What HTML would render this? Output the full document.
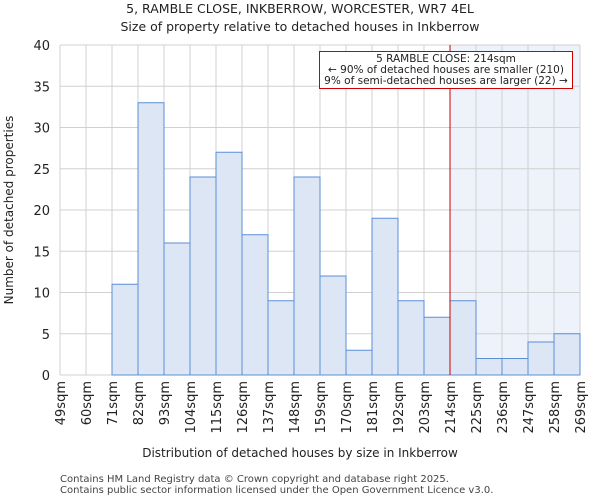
<!DOCTYPE html>
<html><head><meta charset="utf-8"><style>
body{margin:0;background:#fff}
svg{display:block;font-family:"DejaVu Sans","Liberation Sans",sans-serif}
</style></head><body>
<svg id="chart" width="600" height="500" viewBox="0 0 600 500">
<text x="300" y="13" text-anchor="middle" font-size="12.5" fill="#222">5, RAMBLE CLOSE, INKBERROW, WORCESTER, WR7 4EL</text>
<text x="300" y="31" text-anchor="middle" font-size="12.5" fill="#222">Size of property relative to detached houses in Inkberrow</text>
<g id="plot"></g>
<text x="300" y="457" text-anchor="middle" font-size="12" fill="#222">Distribution of detached houses by size in Inkberrow</text>
<text transform="translate(13,210) rotate(-90)" text-anchor="middle" font-size="12" fill="#222">Number of detached properties</text>
<text x="60" y="482" font-size="10" fill="#444">Contains HM Land Registry data © Crown copyright and database right 2025.</text>
<text x="60" y="493" font-size="10" fill="#444">Contains public sector information licensed under the Open Government Licence v3.0.</text>
</svg>
<script>
const categories=["49sqm","60sqm","71sqm","82sqm","93sqm","104sqm","115sqm","126sqm","137sqm","148sqm","159sqm","170sqm","181sqm","192sqm","203sqm","214sqm","225sqm","236sqm","247sqm","258sqm","269sqm"];
const counts=[0,0,11,33,16,24,27,17,9,24,12,3,19,9,7,9,2,2,4,5];
const yTicks=[0,5,10,15,20,25,30,35,40];
const markerIndex=15;
const annotationLines=["5 RAMBLE CLOSE: 214sqm","← 90% of detached houses are smaller (210)","9% of semi-detached houses are larger (22) →"];

const NS="http://www.w3.org/2000/svg";
const L=60,R=580,T=45,B=375,yMax=40;
const bw=(R-L)/counts.length;
const xs=i=>L+i*bw;
const ys=v=>B-(v/yMax)*(B-T);
const g=document.getElementById('plot');
function mk(tag,attrs){const e=document.createElementNS(NS,tag);for(const k in attrs)e.setAttribute(k,attrs[k]);g.appendChild(e);return e;}

let sh=mk('rect',{x:xs(markerIndex),y:T,width:R-xs(markerIndex),height:B-T,fill:'#eef2fb'});


yTicks.forEach(t=>{
  let l=mk('line',{x1:L,x2:R,y1:ys(t),y2:ys(t),stroke:'#d0d0d0','stroke-width':1});
  
  
  let tx=mk('text',{x:L-10,y:ys(t)+5,'text-anchor':'end','font-size':13,fill:'#222'});
  tx.textContent=t;
  
  
});
for(let i=0;i<=counts.length;i++){
  let l=mk('line',{x1:xs(i),x2:xs(i),y1:T,y2:B,stroke:'#d0d0d0','stroke-width':1});
  
  
}
counts.forEach((v,i)=>{
  if(v<=0)return;
  let r=mk('rect',{x:xs(i),y:ys(v),width:bw,height:B-ys(v),fill:'#dce6f5',stroke:'#5b8fd6','stroke-width':1});
  
  
});
categories.forEach((c,i)=>{
  let t=mk('text',{transform:`translate(${xs(i)+5},${B+6}) rotate(-90)`,'text-anchor':'end','font-size':13,fill:'#222'});
  t.textContent=c;
  
  
});
let ml=mk('line',{x1:xs(markerIndex),x2:xs(markerIndex),y1:T,y2:B,stroke:'#cc0000','stroke-width':1});


let ab=mk('rect',{x:319.5,y:51.5,width:253,height:37,fill:'#fff',stroke:'#cc0000','stroke-width':1});


annotationLines.forEach((s,i)=>{
  let t=mk('text',{x:446,y:62+i*11,'text-anchor':'middle','font-size':10.5,fill:'#222'});
  t.textContent=s;
  
  
});
</script>
</body></html>
